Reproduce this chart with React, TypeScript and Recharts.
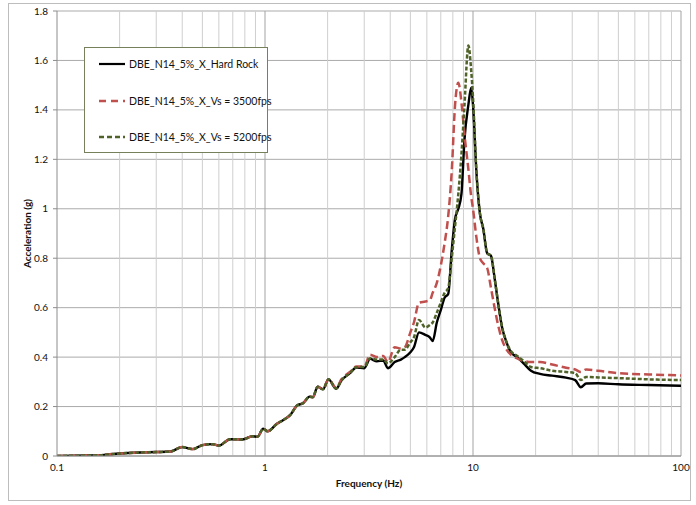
import React from "react";
import { LineChart, Line, XAxis, YAxis, CartesianGrid, ReferenceLine } from "recharts";

// frequency (Hz) and spectral acceleration (g)
const freqs = [
  0.1, 0.12, 0.14, 0.16, 0.18, 0.2, 0.25, 0.3, 0.35, 0.4, 0.45, 0.5, 0.56, 0.6, 0.68, 0.78, 0.87, 0.92, 0.98,
  1.03, 1.14, 1.22, 1.32, 1.43, 1.52, 1.64, 1.7, 1.79, 1.9, 2.02, 2.2, 2.33, 2.56, 2.75, 3.0, 3.2, 3.45, 3.7,
  3.9, 4.2, 4.5, 4.7, 5.0, 5.2, 5.5, 5.9, 6.2, 6.4, 6.7, 7.0, 7.3, 7.6, 7.9, 8.2, 8.5, 8.8, 9.1, 9.5, 9.8,
  10.0, 10.4, 10.8, 11.2, 11.7, 12.2, 12.7, 13.2, 13.8, 14.5, 15.2, 16.3, 17.5, 19.0, 21, 24, 28, 31, 33, 35,
  40, 50, 70, 100,
];

const hardRock = [
  0, 0.001, 0.002, 0.003, 0.007, 0.01, 0.014, 0.016, 0.018, 0.036, 0.028, 0.044, 0.048, 0.042, 0.068, 0.067, 0.08, 0.078, 0.11,
  0.1, 0.13, 0.145, 0.165, 0.205, 0.213, 0.24, 0.238, 0.28, 0.27, 0.31, 0.272, 0.305, 0.335, 0.358, 0.355, 0.393, 0.383, 0.386,
  0.355, 0.38, 0.39, 0.4, 0.42, 0.44, 0.5, 0.49, 0.48, 0.465, 0.54, 0.59, 0.64, 0.655, 0.83, 0.96, 1.0, 1.06, 1.28, 1.42, 1.49,
  1.42, 1.14, 0.98, 0.92, 0.82, 0.81, 0.72, 0.62, 0.52, 0.46, 0.42, 0.4, 0.375, 0.345, 0.332, 0.325, 0.317, 0.307, 0.278, 0.293,
  0.294, 0.29, 0.287, 0.284,
];

const vs3500 = [
  0, 0.001, 0.002, 0.003, 0.007, 0.01, 0.014, 0.016, 0.018, 0.036, 0.028, 0.044, 0.048, 0.042, 0.068, 0.067, 0.08, 0.078, 0.11,
  0.1, 0.13, 0.145, 0.165, 0.205, 0.213, 0.24, 0.238, 0.28, 0.27, 0.31, 0.275, 0.31, 0.34, 0.362, 0.362, 0.41, 0.4, 0.405,
  0.38, 0.44, 0.435, 0.44, 0.5, 0.54, 0.62, 0.625, 0.63, 0.66, 0.7, 0.77, 0.86, 0.97, 1.15, 1.42, 1.51, 1.43, 1.3, 1.16, 1.05,
  1.0, 0.88, 0.8, 0.78, 0.76, 0.68, 0.6, 0.53, 0.47, 0.43, 0.41, 0.395, 0.385, 0.38, 0.38, 0.37, 0.357, 0.35, 0.34, 0.35,
  0.345, 0.335, 0.33, 0.326,
];

const vs5200 = [
  0, 0.001, 0.002, 0.003, 0.007, 0.01, 0.014, 0.016, 0.018, 0.036, 0.028, 0.044, 0.048, 0.042, 0.068, 0.067, 0.08, 0.078, 0.11,
  0.1, 0.13, 0.145, 0.165, 0.205, 0.213, 0.24, 0.238, 0.28, 0.27, 0.31, 0.273, 0.306, 0.336, 0.359, 0.36, 0.395, 0.39, 0.39,
  0.375, 0.4, 0.43, 0.43, 0.46, 0.48, 0.55, 0.52, 0.53, 0.54, 0.58, 0.62, 0.66, 0.68, 0.8, 0.93, 1.06, 1.22, 1.42, 1.66, 1.56,
  1.45, 1.14, 0.98, 0.92, 0.82, 0.81, 0.72, 0.62, 0.52, 0.46, 0.425, 0.405, 0.385, 0.36, 0.355, 0.345, 0.34, 0.335, 0.307, 0.32,
  0.318, 0.315, 0.31, 0.307,
];

const xTicks = [0.1, 1, 10, 100];
const yTicks = [0, 0.2, 0.4, 0.6, 0.8, 1, 1.2, 1.4, 1.6, 1.8];
const minorX = [0.2, 0.3, 0.4, 0.5, 0.6, 0.7, 0.8, 0.9, 2, 3, 4, 5, 6, 7, 8, 9, 20, 30, 40, 50, 60, 70, 80, 90];
const majorX = [1, 10, 100];

const seriesNames = ["DBE_N14_5%_X_Hard Rock", "DBE_N14_5%_X_Vs = 3500fps", "DBE_N14_5%_X_Vs = 5200fps"];

const data = freqs.map((f, i) => ({ f, hr: hardRock[i], v35: vs3500[i], v52: vs5200[i] }));

const FONT = "Lato, 'Open Sans', sans-serif";

const legendItems = [
  { name: seriesNames[0], color: "#000000", dash: undefined, width: 2.2 },
  { name: seriesNames[1], color: "#c0504d", dash: "7 5", width: 2.5 },
  { name: seriesNames[2], color: "#4f6228", dash: "5 3", width: 2.5 },
];

export default function App() {
  return (
    <div style={{ position: "absolute", left: 0, top: 0, width: 696, height: 505, background: "#fff", fontFamily: FONT }}>
      <div
        style={{
          position: "absolute",
          left: 8,
          top: 3,
          width: 681,
          height: 496,
          border: "1px solid #bdbdbd",
        }}
      />
      <div style={{ position: "absolute", left: 0, top: 0 }}>
        <LineChart width={696} height={505} data={data} margin={{ top: 11, right: 15, bottom: 19, left: 12 }}>
          <CartesianGrid vertical={false} stroke="#ababab" strokeWidth={1} />
          {minorX.map((v) => (
            <ReferenceLine key={"m" + v} x={v} stroke="#cfcfcf" strokeWidth={1} />
          ))}
          {majorX.map((v) => (
            <ReferenceLine key={"M" + v} x={v} stroke="#a3a3a3" strokeWidth={1} />
          ))}
          <XAxis
            dataKey="f"
            type="number"
            scale="log"
            domain={[0.1, 100]}
            ticks={xTicks}
            allowDataOverflow
            height={30}
            tickLine={false}
            tickSize={0}
            tickMargin={8}
            stroke="#8c8c8c"
            tick={{ fontSize: 10, fill: "#111", fontFamily: FONT }}
            tickFormatter={(v: number) => String(v)}
            label={{
              value: "Frequency (Hz)",
              position: "insideBottom",
              offset: -1,
              style: { fontSize: 10, fontWeight: 700, fill: "#111", fontFamily: FONT },
            }}
          />
          <YAxis
            type="number"
            domain={[0, 1.8]}
            ticks={yTicks}
            allowDataOverflow
            width={45}
            tickSize={4}
            tickMargin={5}
            stroke="#8c8c8c"
            tick={{ fontSize: 10, fill: "#111", fontFamily: FONT }}
            tickFormatter={(v: number) => String(Number(v.toFixed(1)))}
            label={{
              value: "Acceleration (g)",
              angle: -90,
              position: "insideLeft",
              offset: 15,
              style: { fontSize: 10, fontWeight: 700, fill: "#111", fontFamily: FONT, textAnchor: "middle" },
            }}
          />
          <Line
            dataKey="hr"
            name={seriesNames[0]}
            type="monotone"
            stroke="#000000"
            strokeWidth={2.4}
            dot={false}
            isAnimationActive={false}
          />
          <Line
            dataKey="v35"
            name={seriesNames[1]}
            type="monotone"
            stroke="#c0504d"
            strokeWidth={2.5}
            strokeDasharray="8 4"
            dot={false}
            isAnimationActive={false}
          />
          <Line
            dataKey="v52"
            name={seriesNames[2]}
            type="monotone"
            stroke="#4f6228"
            strokeWidth={2.5}
            strokeDasharray="4 2"
            dot={false}
            isAnimationActive={false}
          />
        </LineChart>
      </div>
      <div
        style={{
          position: "absolute",
          left: 84,
          top: 47,
          width: 182,
          height: 104,
          border: "1px solid #76805a",
          background: "#fff",
        }}
      >
        {legendItems.map((it, i) => (
          <div
            key={it.name}
            style={{ position: "absolute", left: 14, top: 9 + i * 36.5, height: 14, display: "flex", alignItems: "center" }}
          >
            <svg width={26} height={6} style={{ marginRight: 4 }}>
              <line x1={0} y1={3} x2={26} y2={3} stroke={it.color} strokeWidth={it.width} strokeDasharray={it.dash} />
            </svg>
            <span style={{ fontSize: 10.5, color: "#111", whiteSpace: "nowrap" }}>{it.name}</span>
          </div>
        ))}
      </div>
    </div>
  );
}
